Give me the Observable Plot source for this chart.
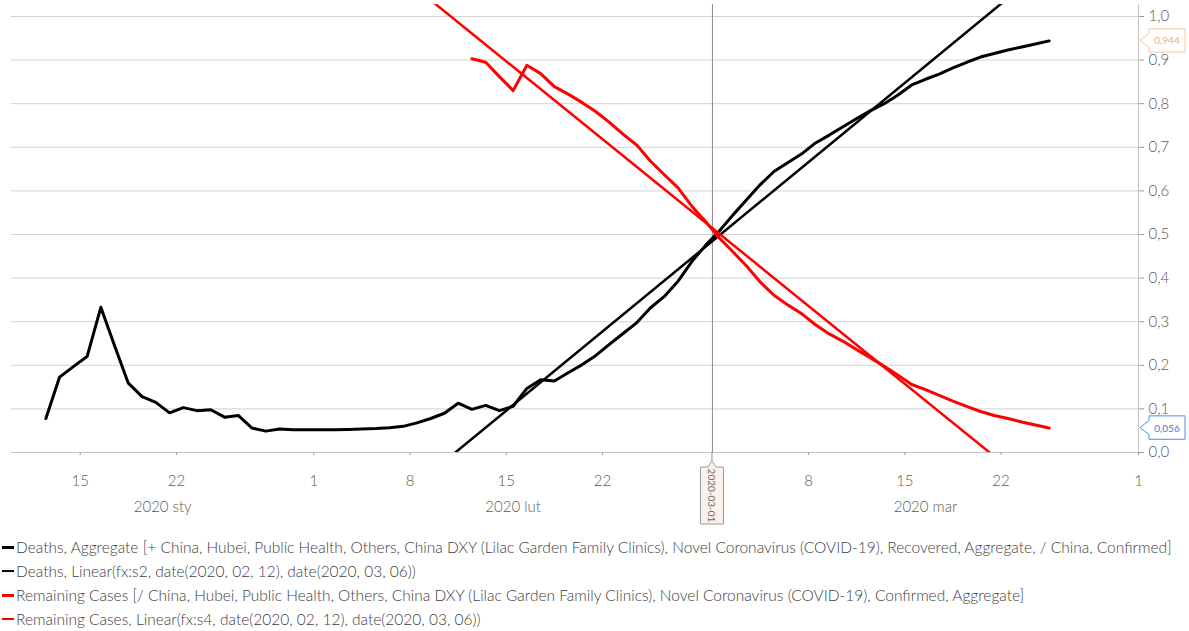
<!DOCTYPE html>
<html><head><meta charset="utf-8">
<script src="https://cdn.jsdelivr.net/npm/d3@7"></script>
<script src="https://cdn.jsdelivr.net/npm/@observablehq/plot@0.6"></script>
<style>
body{margin:0;background:#fff;font-family:Lato,"Open Sans",sans-serif;}
#legend{margin-top:5px}
.row{height:24px;display:flex;align-items:center;font-size:15.5px;color:#404040;font-weight:300;white-space:nowrap}
.sw{width:12px;margin:0 2px 0 2px;}
</style></head><body><div id="chart"></div><div id="legend"></div>
<script>
// ---- data ----
const deathsStart = "2020-01-12";
const deathsValues = [
  0.078,0.173,0.197,0.220,0.333,0.245,0.159,0.128,0.115,0.091,
  0.103,0.096,0.098,0.081,0.085,0.056,0.049,0.054,0.052,0.052,
  0.052,0.052,0.053,0.054,0.055,0.057,0.060,0.068,0.078,0.090,
  0.113,0.099,0.108,0.096,0.106,0.147,0.167,0.164,0.183,0.201,
  0.222,0.248,0.273,0.298,0.332,0.358,0.393,0.438,0.475,
  0.508,0.545,0.580,0.615,0.645,0.665,0.685,0.710,0.728,0.747,
  0.766,0.784,0.800,0.820,0.843,0.856,0.868,0.882,0.895,0.907,
  0.915,0.923,0.930,0.937,0.944
];
const remainingStart = "2020-02-12";
const remainingValues = [
  0.903,0.895,0.862,0.830,0.888,0.869,0.839,0.822,0.803,0.782,
  0.757,0.730,0.705,0.668,0.637,0.607,0.565,0.530,
  0.492,0.460,0.427,0.390,0.360,0.338,0.318,0.293,0.272,0.255,
  0.236,0.217,0.198,0.177,0.156,0.144,0.131,0.118,0.106,0.094,
  0.085,0.078,0.070,0.063,0.056
];
const deathsLinDates = ["2020-02-10","2020-03-24"];
const deathsLinValues = [-0.0205, 1.094];
const remLinDates = ["2020-02-08","2020-03-24"];
const remLinValues = [1.063, -0.085];

const yTicks = [0,0.1,0.2,0.3,0.4,0.5,0.6,0.7,0.8,0.9,1.0];
const xTickDates = ["2020-01-15","2020-01-22","2020-02-01","2020-02-08","2020-02-15","2020-02-22","2020-03-08","2020-03-15","2020-03-22","2020-04-01"];
const monthLabels = ["2020 sty","2020 lut","2020 mar"];
const monthStarts = ["2020-01-01","2020-02-01","2020-03-01","2020-04-01"];
const markerDate = "2020-03-01";
const markerLabel = "2020-03-01";
const domainDates = ["2020-01-10","2020-04-01"];
const seriesNames = [
  "Deaths, Aggregate [+ China, Hubei, Public Health, Others, China DXY (Lilac Garden Family Clinics), Novel Coronavirus (COVID-19), Recovered, Aggregate, / China, Confirmed]",
  "Deaths, Linear(fx:s2, date(2020, 02, 12), date(2020, 03, 06))",
  "Remaining Cases [/ China, Hubei, Public Health, Others, China DXY (Lilac Garden Family Clinics), Novel Coronavirus (COVID-19), Confirmed, Aggregate]",
  "Remaining Cases, Linear(fx:s4, date(2020, 02, 12), date(2020, 03, 06))"
];
const seriesColors = ["#000000","#000000","#ff0000","#ff0000"];
const seriesWidths = [3,2.5,3,2.5];

// ---- build ----
const DAY = 864e5;
const daily = (start, vals) => vals.map((v,i)=>({date:new Date(Date.parse(start)+(i+0.5)*DAY), v}));
const deaths = daily(deathsStart, deathsValues);
const remaining = daily(remainingStart, remainingValues);
const pairs = (ds, vs) => ds.map((d,i)=>({date:new Date(Date.parse(d)+0.5*DAY), v:vs[i]}));
const deathsLin = pairs(deathsLinDates, deathsLinValues);
const remLin = pairs(remLinDates, remLinValues);
const x0 = new Date(domainDates[0]), x1 = new Date(domainDates[1]);
const monthMid = monthLabels.map((m,i)=>{
  const a = Math.max(+new Date(monthStarts[i]), +x0), b = Math.min(+new Date(monthStarts[i+1]), +x1);
  return {label:m, date:new Date((a+b)/2)};
});
const fmt = d => d.toFixed(1).replace(".", ",");

const plot = Plot.plot({
  width:1189, height:530, marginLeft:11, marginRight:51, marginTop:4, marginBottom:78,
  x:{type:"utc", domain:[x0,x1]},
  y:{domain:[0,1.0275]},
  style:{fontFamily:"Lato, sans-serif", fontSize:"15px", color:"#595959", background:"#fff"},
  marks:[
    Plot.gridY(yTicks.slice(1), {stroke:"#d2d2d2", strokeOpacity:1}),
    Plot.ruleY([0], {stroke:"#c4c4c4"}),
    Plot.ruleX([x1], {stroke:"#c4c4c4"}),
    Plot.ruleX([new Date(markerDate)], {stroke:"#8c8c8c", strokeWidth:1}),
    Plot.axisY(yTicks, {anchor:"right", tickFormat:fmt, tickSize:5, tickPadding:5, stroke:"#9a9a9a", fill:"#595959", fontWeight:300, label:null}),
    Plot.axisX(xTickDates.map(d=>new Date(d)), {anchor:"bottom", tickSize:3, tickPadding:20, tickFormat:d=>d.getUTCDate(), stroke:"#9a9a9a", fill:"#595959", fontWeight:300, label:null}),
    Plot.text(monthMid, {x:"date", text:"label", frameAnchor:"bottom", dy:59, fill:"#595959", fontWeight:300}),
    Plot.line(deaths, {x:"date", y:"v", stroke:seriesColors[0], strokeWidth:seriesWidths[0], clip:true}),
    Plot.line(deathsLin, {x:"date", y:"v", stroke:seriesColors[1], strokeWidth:seriesWidths[1], clip:true}),
    Plot.line(remaining, {x:"date", y:"v", stroke:seriesColors[2], strokeWidth:seriesWidths[2], clip:true}),
    Plot.line(remLin, {x:"date", y:"v", stroke:seriesColors[3], strokeWidth:seriesWidths[3], clip:true})
  ]
});
document.getElementById("chart").appendChild(plot);

// ---- flags (positioned via scales) ----
const xs = plot.scale("x"), ys = plot.scale("y");
const NS = "http://www.w3.org/2000/svg";
const el = (tag, attrs, parent) => { const e = document.createElementNS(NS, tag); for (const k in attrs) e.setAttribute(k, attrs[k]); parent.appendChild(e); return e; };
const g = el("g", {}, plot);
function fmt3(v){ return v.toFixed(3).replace(".", ","); }
// marker flag under axis
{
  const cx = xs.apply(new Date(markerDate)), top = 467, bot = 524, hw = 11.5;
  el("line", {x1:cx, x2:cx, y1:452, y2:461, stroke:"#8c8c8c"}, g);
  el("path", {d:`M${cx-hw},${top}L${cx-4},${top}L${cx},${top-6}L${cx+4},${top}L${cx+hw},${top}L${cx+hw},${bot}L${cx-hw},${bot}Z`, fill:"#fcf2ea", stroke:"#9a9a9a"}, g);
  const t = el("text", {transform:`translate(${cx},${(top+bot)/2}) rotate(90)`, "text-anchor":"middle", "dominant-baseline":"central", "font-size":"10px", fill:"#6a6a6a", "font-family":"Lato, sans-serif"}, g);
  t.textContent = markerLabel;
}
// end value flags
const endFlags = [
  {v: deathsValues[deathsValues.length-1], stroke:"#f8c6a4", fill:"#f2a97f"},
  {v: remainingValues[remainingValues.length-1], stroke:"#4b8fe4", fill:"#3a80d6"}
];
for (const f of endFlags) {
  const y = ys.apply(f.v), tip = 1140, l = 1149, r = 1185, h = 11.7;
  el("path", {d:`M${tip},${y}L${l},${y-7}L${l},${y-h}L${r},${y-h}L${r},${y+h}L${l},${y+h}L${l},${y+7}Z`, fill:"#fff", stroke:f.stroke}, g);
  const t = el("text", {x:(l+r)/2, y:y, "text-anchor":"middle", "dominant-baseline":"central", "font-size":"10px", fill:f.fill, "font-family":"Lato, sans-serif"}, g);
  t.textContent = fmt3(f.v);
}

// ---- legend ----
const leg = document.getElementById("legend");
seriesNames.forEach((n,i)=>{
  const row = document.createElement("div"); row.className = "row";
  const sw = document.createElement("div"); sw.className = "sw";
  sw.style.height = seriesWidths[i] + "px"; sw.style.background = seriesColors[i];
  const tx = document.createElement("span"); tx.textContent = n;
  row.appendChild(sw); row.appendChild(tx); leg.appendChild(row);
});
</script></body></html>
